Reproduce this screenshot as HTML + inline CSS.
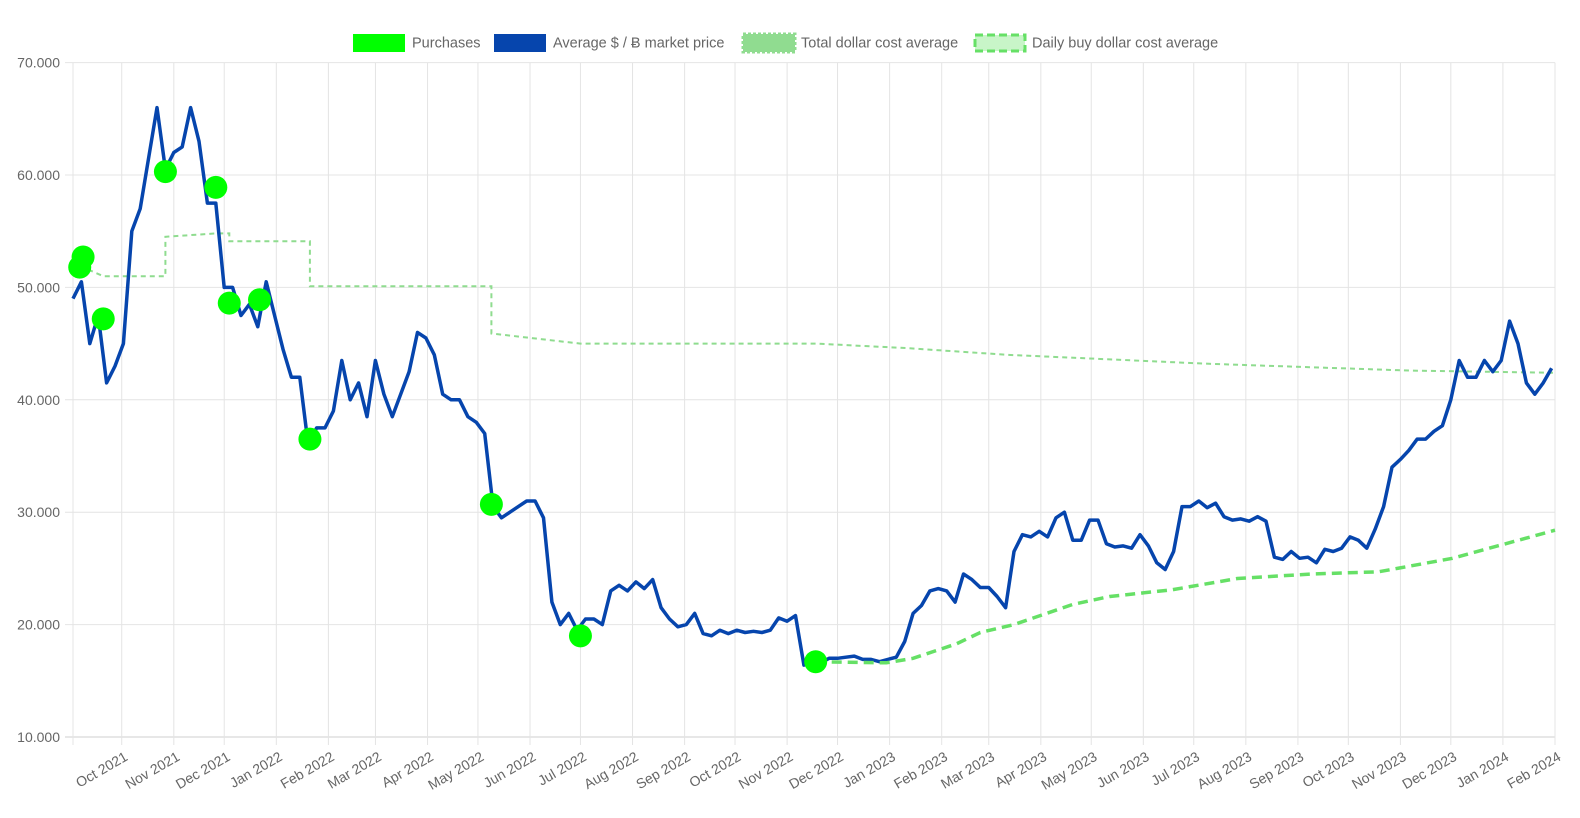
<!DOCTYPE html>
<html><head><meta charset="utf-8">
<style>
html,body{margin:0;padding:0;background:#fff;}
svg{display:block;font-family:"Liberation Sans",Arial,sans-serif;}
</style></head>
<body>
<svg id="chart" width="1580" height="818" viewBox="0 0 1580 818" xmlns="http://www.w3.org/2000/svg">
  <g id="grid"></g>
  <g id="yaxis"></g>
  <g id="xaxis"></g>
  <g id="series"></g>
  <g id="legend">
    <g>
      <rect x="353" y="34" width="52" height="18" fill="#00ff00"/>
      <text x="412" y="47.5" font-size="14.5" fill="#666">Purchases</text>
    </g>
    <g>
      <rect x="494" y="34" width="52" height="18" fill="#0645ad"/>
      <text x="553" y="47.5" font-size="14.5" fill="#666">Average $ / Ƀ market price</text>
    </g>
    <g>
      <rect x="743" y="34" width="52" height="18" fill="#90dc90" stroke="#90dc90" stroke-width="3" stroke-dasharray="3 2"/>
      <text x="801" y="47.5" font-size="14.5" fill="#666">Total dollar cost average</text>
    </g>
    <g>
      <rect x="975" y="35" width="50" height="16" fill="#c8f5c8" stroke="#66e066" stroke-width="3" stroke-dasharray="8 4"/>
      <text x="1032" y="47.5" font-size="14.5" fill="#666">Daily buy dollar cost average</text>
    </g>
  </g>
</svg>
<script>
// ---- data ----
const priceStart = "2021-09-02";
const priceStepDays = 5;
const priceValues = [49000,50500,45000,47500,41500,43000,45000,55000,57000,61500,
66000,60500,62000,62500,66000,63000,57500,57500,50000,50000,
47500,48500,46500,50500,47500,44500,42000,42000,36000,37500,
37500,39000,43500,40000,41500,38500,43500,40500,38500,40500,
42500,46000,45500,44000,40500,40000,40000,38500,38000,37000,
30500,29500,30000,30500,31000,31000,29500,22000,20000,21000,
19500,20500,20500,20000,23000,23500,23000,23800,23200,24000,
21500,20500,19800,20000,21000,19200,19000,19500,19200,19500,
19300,19400,19300,19500,20600,20300,20800,16400,16700,16600,
17000,17000,17100,17200,16900,16900,16700,16900,17100,18500,
21000,21700,23000,23200,23000,22000,24500,24000,23300,23300,
22500,21500,26500,28000,27800,28300,27800,29500,30000,27500,
27500,29300,29300,27200,26900,27000,26800,28000,27000,25500,
24900,26500,30500,30500,31000,30400,30800,29600,29300,29400,
29200,29600,29200,26000,25800,26500,25900,26000,25500,26700,
26500,26800,27800,27500,26800,28500,30500,34000,34700,35500,
36500,36500,37200,37700,40000,43500,42000,42000,43500,42500,
43500,47000,45000,41500,40500,41500,42800];

const purchaseDates = ["2021-09-06","2021-09-08","2021-09-20","2021-10-27","2021-11-26","2021-12-04","2021-12-22","2022-01-21","2022-05-09","2022-07-01","2022-11-18"];
const purchaseValues = [51800,52700,47200,60300,58900,48600,48900,36500,30700,19000,16700];

const totalDcaDates = ["2021-09-06","2021-09-08","2021-09-20","2021-10-27","2021-10-27","2021-11-26","2021-12-04","2021-12-04","2022-01-21","2022-01-21","2022-05-09","2022-05-09","2022-07-01","2022-11-18","2023-01-11","2023-03-12","2023-07-10","2023-11-07","2024-02-01"];
const totalDcaValues = [51800,51800,51000,51000,54500,54800,54800,54100,54100,50100,50100,45900,45000,45000,44600,44000,43200,42600,42400];

const dailyDcaDates = ["2022-11-18","2022-12-30","2023-01-15","2023-02-10","2023-02-24","2023-03-16","2023-04-20","2023-05-12","2023-06-18","2023-07-27","2023-09-09","2023-10-19","2023-12-02","2024-02-01"];
const dailyDcaValues = [16700,16600,17000,18300,19300,20000,21800,22500,23100,24100,24500,24700,25900,28400];

const yTicks = [10000,20000,30000,40000,50000,60000,70000];
const yTickLabels = ["10.000","20.000","30.000","40.000","50.000","60.000","70.000"];
const xTickDates = ["2021-10-01","2021-11-01","2021-12-01","2022-01-01","2022-02-01","2022-03-01","2022-04-01","2022-05-01","2022-06-01","2022-07-01","2022-08-01","2022-09-01","2022-10-01","2022-11-01","2022-12-01","2023-01-01","2023-02-01","2023-03-01","2023-04-01","2023-05-01","2023-06-01","2023-07-01","2023-08-01","2023-09-01","2023-10-01","2023-11-01","2023-12-01","2024-01-01","2024-02-01"];
const xTickLabels = ["Oct 2021","Nov 2021","Dec 2021","Jan 2022","Feb 2022","Mar 2022","Apr 2022","May 2022","Jun 2022","Jul 2022","Aug 2022","Sep 2022","Oct 2022","Nov 2022","Dec 2022","Jan 2023","Feb 2023","Mar 2023","Apr 2023","May 2023","Jun 2023","Jul 2023","Aug 2023","Sep 2023","Oct 2023","Nov 2023","Dec 2023","Jan 2024","Feb 2024"];

// ---- scales ----
const NS = "http://www.w3.org/2000/svg";
const X0 = 73, X1 = 1555, Y0 = 737, Y1 = 62.6;
const D0 = Date.UTC(2021,8,2), D1 = Date.UTC(2024,1,1);
const yMin = 10000, yMax = 70000;
function dateMs(s){const p=s.split("-");return Date.UTC(+p[0],+p[1]-1,+p[2]);}
function xOf(ms){return X0+(ms-D0)/(D1-D0)*(X1-X0);}
function yOf(v){return Y0-(v-yMin)/(yMax-yMin)*(Y0-Y1);}
function mk(tag,attrs,parent){const e=document.createElementNS(NS,tag);for(const k in attrs)e.setAttribute(k,attrs[k]);parent.appendChild(e);return e;}

const grid=document.getElementById("grid"), yaxis=document.getElementById("yaxis"), xaxis=document.getElementById("xaxis"), series=document.getElementById("series");

yTicks.forEach((v,i)=>{
  const y=yOf(v);
  const l=mk("line",{x1:X0-8,x2:X1,y1:y,y2:y,stroke:i===0?"#cfcfcf":"#e4e4e4","stroke-width":1},grid);
  
  
  const t=mk("text",{x:X0-13,y:y+5,"text-anchor":"end","font-size":14,fill:"#666"},yaxis);
  t.textContent=yTickLabels[i];
  
  
});
const la=mk("line",{x1:X0,x2:X0,y1:Y1,y2:Y0+8,stroke:"#e4e4e4","stroke-width":1},grid);


xTickDates.forEach((d,i)=>{
  const x=xOf(dateMs(d));
  const l=mk("line",{x1:x,x2:x,y1:Y1,y2:Y0+8,stroke:"#e4e4e4","stroke-width":1},grid);
  
  
  const t=mk("text",{x:x+2,y:Y0+14,"text-anchor":"end","font-size":14,fill:"#666",transform:`rotate(-30 ${x+2} ${Y0+14})`},xaxis);
  t.setAttribute('dy','0.7em');
  t.textContent=xTickLabels[i];
  
  
});

function pathFrom(dates,vals){return vals.map((v,i)=>(i?"L":"M")+xOf(dates[i]).toFixed(1)+","+yOf(v).toFixed(1)).join(" ");}

const tdMs = totalDcaDates.map(dateMs);
const tp=mk("path",{d:pathFrom(tdMs,totalDcaValues),fill:"none",stroke:"#8fdc8f","stroke-width":2,"stroke-dasharray":"5 4"},series);



const pMs = priceValues.map((v,i)=>dateMs(priceStart)+i*priceStepDays*86400000);
const pp=mk("path",{d:pathFrom(pMs,priceValues),fill:"none",stroke:"#0645ad","stroke-width":3.5,"stroke-linejoin":"round"},series);



const ddMs = dailyDcaDates.map(dateMs);
const dp=mk("path",{d:pathFrom(ddMs,dailyDcaValues),fill:"none",stroke:"#66e066","stroke-width":3.5,"stroke-dasharray":"10 6"},series);



purchaseValues.forEach((v,i)=>{
  const c=mk("circle",{cx:xOf(dateMs(purchaseDates[i])),cy:yOf(v),r:11.5,fill:"#00ff00"},series);
  
  
});
</script>
</body></html>
